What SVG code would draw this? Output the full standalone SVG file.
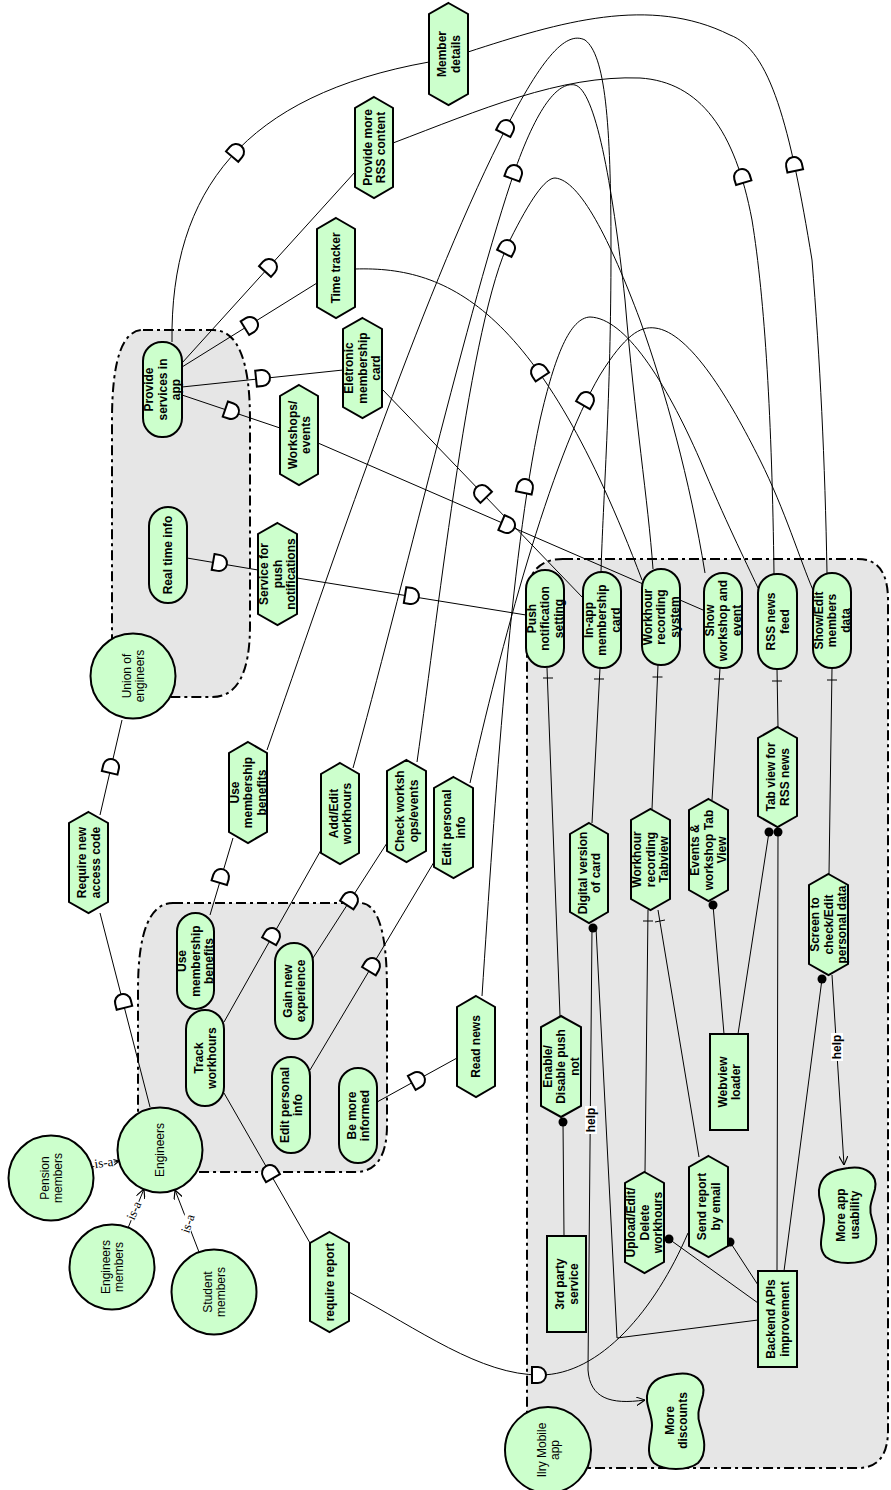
<svg xmlns="http://www.w3.org/2000/svg" width="891" height="1490" viewBox="0 0 891 1490">
<style>
.bnd{fill:#e6e6e6;stroke:#000;stroke-width:2;stroke-dasharray:10 4 3 4}
.n{fill:#ccffcc;stroke:#000;stroke-width:2}
.t{font-family:"Liberation Sans",Arial,sans-serif;font-size:12px;font-weight:bold;text-anchor:middle;fill:#000}
.ta{font-weight:normal}
.l{fill:none;stroke:#000;stroke-width:1}
.dm{fill:#fff;stroke:#000;stroke-width:2}
.dot{fill:#000}
.isa{font-family:"Liberation Serif","Times New Roman",serif;font-size:13px;text-anchor:middle}
.lb{fill:#fff}
</style>
<defs>
<path id="dmk" class="dm" d="M-6,-8 L0,-8 A8,8 0 0 1 0,8 L-6,8 Z"/>
<marker id="arr" viewBox="0 0 10 10" refX="10" refY="5" markerWidth="9" markerHeight="9" orient="auto" markerUnits="userSpaceOnUse"><path d="M0,0 L10,5 L0,10" fill="none" stroke="#000" stroke-width="1.3"/></marker>
<path id="cloud" d="M30,1 C48,-2 60,8 57,22 C54,34 50,40 54,52 C58,64 62,80 52,90 C42,98 18,98 8,90 C-2,80 6,64 6,52 C6,40 -2,30 2,18 C6,6 16,3 30,1 Z"/>
</defs>

<g id="boundaries">
<path id="b_union" class="bnd" d="M143,330 L213,330 Q250,330 250,420 L250,625 Q250,697 212,697 L150,697 Q112,697 112,650 L112,420 Q112,330 143,330 Z"/>
<path id="b_eng" class="bnd" d="M173,903 L360,903 Q387,903 387,990 L387,1125 Q387,1172 355,1172 L170,1172 Q138,1172 138,1140 L138,990 Q138,903 173,903 Z"/>
<path id="b_ilry" class="bnd" d="M563,559 L858,559 Q888,559 888,600 L888,1430 Q888,1468 858,1468 L560,1468 Q527,1468 527,1430 L527,600 Q527,559 563,559 Z"/>
</g>

<g id="connectors">
<path class="l" d="M172,342 C170,190 245,95 429,62"/>
<path class="l" d="M468,52 C560,22 650,-5 730,35 C770,50 790,125 812,260 C820,360 825,460 827,573"/>
<path class="l" d="M182,363 L355,172"/>
<path class="l" d="M393,143 C480,110 560,75 640,78 C700,82 735,130 752,220 C765,300 772,420 774,574"/>
<path class="l" d="M182,367 L317,283"/>
<path class="l" d="M355,269 C450,266 540,310 642,580"/>
<path class="l" d="M182,387 L343,370"/>
<path class="l" d="M382,389 L583,598"/>
<path class="l" d="M182,395 L280,428"/>
<path class="l" d="M318,443 L703,610"/>
<path class="l" d="M187,558 L258,570"/>
<path class="l" d="M297,578 L526,615"/>
<path class="l" d="M210,915 L233,838"/>
<path class="l" d="M267,750 C330,570 420,300 500,140 C540,60 565,30 585,40 C605,55 611,120 611,250 C611,400 603,500 601,572"/>
<path class="l" d="M224,1022 L321,850"/>
<path class="l" d="M353,768 C400,600 470,300 515,170 C540,100 560,82 575,85 C595,90 612,180 625,300 C635,420 648,500 653,569"/>
<path class="l" d="M313,958 L387,843"/>
<path class="l" d="M417,762 C440,600 470,320 510,240 C530,200 545,178 555,178 C580,180 610,240 640,320 C665,390 690,480 705,573"/>
<path class="l" d="M310,1070 L434,862"/>
<path class="l" d="M470,783 C500,650 550,460 600,375 C625,335 640,326 655,328 C690,332 730,400 760,460 C785,510 800,560 813,590"/>
<path class="l" d="M377,1102 L457,1058"/>
<path class="l" d="M482,996 C495,800 510,560 540,420 C555,355 570,318 590,317 C625,318 665,380 700,460 C725,520 745,560 758,588"/>
<path class="l" d="M224,1093 L310,1243"/>
<path class="l" d="M349,1292 C420,1330 480,1375 540,1375 C600,1375 655,1310 688,1233"/>
<path class="l" d="M150,1107 L100,913"/>
<path class="l" d="M100,815 L122,720"/>

<path class="l" d="M547,668 L560,1016 M543,678 L553,678"/>
<path class="l" d="M600,668 L592,823 M594,679 L604,679"/>
<path class="l" d="M658,665 L652,809 M652.5,677 L662.5,677"/>
<path class="l" d="M720,668 L712,800 M714,679 L724,679"/>
<path class="l" d="M777,669 L778,727 M772,681 L782,681"/>
<path class="l" d="M832,668 L829,874 M827,680 L837,680"/>
<path class="l" d="M648,910 L645,1172 M643,921 L653,921"/>
<path class="l" d="M658,910 L699,1157 M655,922 L665,920"/>

<path class="l" d="M564,1236 L563,1122"/>
<path class="l" d="M724,1034 L713,905"/>
<path class="l" d="M738,1034 L769,832"/>
<path class="l" d="M777,1271 L778,832"/>
<path class="l" d="M784,1271 L822,979"/>
<path class="l" d="M758,1285 L730,1242"/>
<path class="l" d="M758,1303 L669,1239"/>
<path class="l" d="M758,1320 L617,1338 L596,928"/>
<circle class="dot" cx="563" cy="1122" r="4.5"/>
<circle class="dot" cx="713" cy="905" r="4.5"/>
<circle class="dot" cx="769" cy="832" r="4.5"/>
<circle class="dot" cx="778" cy="832" r="4.5"/>
<circle class="dot" cx="822" cy="979" r="4.5"/>
<circle class="dot" cx="730" cy="1242" r="4.5"/>
<circle class="dot" cx="669" cy="1239" r="4.5"/>
<circle class="dot" cx="593" cy="928" r="4.5"/>

<path class="l" d="M592,928 L588,1370 C590,1398 610,1405 645,1400" marker-end="url(#arr)"/>
<path class="l" d="M832,975 L844,1165" marker-end="url(#arr)"/>
<g transform="translate(591,1120) rotate(-90)"><rect class="lb" x="-14" y="-6" width="28" height="12"/><text class="t" y="4">help</text></g>
<g transform="translate(837,1047) rotate(-90)"><rect class="lb" x="-14" y="-6" width="28" height="12"/><text class="t" y="4">help</text></g>

<path class="l" d="M92,1167 L119,1161" marker-end="url(#arr)"/>
<path class="l" d="M128,1228 L144,1189" marker-end="url(#arr)"/>
<path class="l" d="M199,1252 L175,1190" marker-end="url(#arr)"/>
<g transform="translate(104,1164) rotate(-8)"><rect class="lb" x="-10" y="-8" width="20" height="12"/><text class="isa" y="3">is-a</text></g>
<g transform="translate(135,1211) rotate(-66)"><rect class="lb" x="-10" y="-7" width="20" height="11"/><text class="isa" y="3">is-a</text></g>
<g transform="translate(189,1224) rotate(-72)"><rect class="lb" x="-10" y="-7" width="20" height="11"/><text class="isa" y="3">is-a</text></g>

<use href="#dmk" transform="translate(236,152) rotate(-50)"/>
<use href="#dmk" transform="translate(794,165) rotate(-102)"/>
<use href="#dmk" transform="translate(269,267) rotate(-48)"/>
<use href="#dmk" transform="translate(742,177) rotate(-107)"/>
<use href="#dmk" transform="translate(250,325) rotate(-32)"/>
<use href="#dmk" transform="translate(539,372) rotate(-124)"/>
<use href="#dmk" transform="translate(262,378) rotate(-6)"/>
<use href="#dmk" transform="translate(482,493) rotate(-134)"/>
<use href="#dmk" transform="translate(231,411) rotate(19)"/>
<use href="#dmk" transform="translate(507,525) rotate(23)"/>
<use href="#dmk" transform="translate(219,563) rotate(10)"/>
<use href="#dmk" transform="translate(411,596) rotate(9)"/>
<use href="#dmk" transform="translate(221,877) rotate(-73)"/>
<use href="#dmk" transform="translate(506,128) rotate(-63)"/>
<use href="#dmk" transform="translate(272,936) rotate(-61)"/>
<use href="#dmk" transform="translate(514,173) rotate(-70)"/>
<use href="#dmk" transform="translate(350,900) rotate(-57)"/>
<use href="#dmk" transform="translate(507,248) rotate(-63)"/>
<use href="#dmk" transform="translate(372,966) rotate(-59)"/>
<use href="#dmk" transform="translate(586,400) rotate(-60)"/>
<use href="#dmk" transform="translate(417,1080) rotate(-29)"/>
<use href="#dmk" transform="translate(525,487) rotate(-78)"/>
<use href="#dmk" transform="translate(270,1173) rotate(-120)"/>
<use href="#dmk" transform="translate(538,1375) rotate(0)"/>
<use href="#dmk" transform="translate(123,1002) rotate(-104)"/>
<use href="#dmk" transform="translate(111,767) rotate(-77)"/>
</g>

<g id="g_provide"><rect class="n" x="143" y="342" width="39" height="95" rx="19"/><text class="t" transform="translate(162.5,389.5) rotate(-90)"><tspan x="0" y="-9.5">Provide</tspan><tspan x="0" y="4">services in</tspan><tspan x="0" y="17.5">app</tspan></text></g>
<g id="g_realtime"><rect class="n" x="149" y="507" width="38" height="96" rx="19"/><text class="t" transform="translate(168,555) rotate(-90)"><tspan x="0" y="4">Real time info</tspan></text></g>
<g id="g_usemem"><rect class="n" x="177" y="913" width="37" height="96" rx="18.5"/><text class="t" transform="translate(195.5,961) rotate(-90)"><tspan x="0" y="-9.5">Use</tspan><tspan x="0" y="4">membership</tspan><tspan x="0" y="17.5">benefits</tspan></text></g>
<g id="g_track"><rect class="n" x="186" y="1010" width="38" height="96" rx="19"/><text class="t" transform="translate(205,1058) rotate(-90)"><tspan x="0" y="-2.5">Track</tspan><tspan x="0" y="11">workhours</tspan></text></g>
<g id="g_gain"><rect class="n" x="275" y="943" width="38" height="96" rx="19"/><text class="t" transform="translate(294,991) rotate(-90)"><tspan x="0" y="-2.5">Gain new</tspan><tspan x="0" y="11">experience</tspan></text></g>
<g id="g_editinfo"><rect class="n" x="272" y="1057" width="38" height="96" rx="19"/><text class="t" transform="translate(291,1105) rotate(-90)"><tspan x="0" y="-2.5">Edit personal</tspan><tspan x="0" y="11">info</tspan></text></g>
<g id="g_bemore"><rect class="n" x="339" y="1068" width="38" height="95" rx="19"/><text class="t" transform="translate(358,1115.5) rotate(-90)"><tspan x="0" y="-2.5">Be more</tspan><tspan x="0" y="11">informed</tspan></text></g>
<g id="g_push"><rect class="n" x="526" y="570" width="38" height="97" rx="19"/><text class="t" transform="translate(545,618.5) rotate(-90)"><tspan x="0" y="-9.5">Push</tspan><tspan x="0" y="4">notification</tspan><tspan x="0" y="17.5">setting</tspan></text></g>
<g id="g_inapp"><rect class="n" x="583" y="572" width="38" height="96" rx="19"/><text class="t" transform="translate(602,620) rotate(-90)"><tspan x="0" y="-9.5">In-app</tspan><tspan x="0" y="4">membership</tspan><tspan x="0" y="17.5">card</tspan></text></g>
<g id="g_workhour"><rect class="n" x="642" y="569" width="38" height="96" rx="19"/><text class="t" transform="translate(661,617) rotate(-90)"><tspan x="0" y="-9.5">Workhour</tspan><tspan x="0" y="4">recording</tspan><tspan x="0" y="17.5">system</tspan></text></g>
<g id="g_showws"><rect class="n" x="704" y="573" width="38" height="95" rx="19"/><text class="t" transform="translate(723,620.5) rotate(-90)"><tspan x="0" y="-9.5">Show</tspan><tspan x="0" y="4">workshop and</tspan><tspan x="0" y="17.5">event</tspan></text></g>
<g id="g_rss"><rect class="n" x="758" y="574" width="39" height="95" rx="19"/><text class="t" transform="translate(777.5,621.5) rotate(-90)"><tspan x="0" y="-2.5">RSS news</tspan><tspan x="0" y="11">feed</tspan></text></g>
<g id="g_showedit"><rect class="n" x="813" y="573" width="38" height="95" rx="19"/><text class="t" transform="translate(832,620.5) rotate(-90)"><tspan x="0" y="-9.5">Show/Edit</tspan><tspan x="0" y="4">members</tspan><tspan x="0" y="17.5">data</tspan></text></g>

<g id="t_member"><polygon class="n" points="448.5,3 468,14 468,94 448.5,105 429,94 429,14"/><text class="t" transform="translate(448.5,54) rotate(-90)"><tspan x="0" y="-2.5">Member</tspan><tspan x="0" y="11">details</tspan></text></g>
<g id="t_rssmore"><polygon class="n" points="374,97 393,108 393,187 374,198 355,187 355,108"/><text class="t" transform="translate(374,147.5) rotate(-90)"><tspan x="0" y="-2.5">Provide more</tspan><tspan x="0" y="11">RSS content</tspan></text></g>
<g id="t_time"><polygon class="n" points="336,218 355,229 355,307 336,318 317,307 317,229"/><text class="t" transform="translate(336,268) rotate(-90)"><tspan x="0" y="4">Time tracker</tspan></text></g>
<g id="t_ecard"><polygon class="n" points="362.5,318 382,329 382,407 362.5,418 343,407 343,329"/><text class="t" transform="translate(362.5,368) rotate(-90)"><tspan x="0" y="-9.5">Eletronic</tspan><tspan x="0" y="4">membership</tspan><tspan x="0" y="17.5">card</tspan></text></g>
<g id="t_workshops"><polygon class="n" points="299,385 318,396 318,474 299,485 280,474 280,396"/><text class="t" transform="translate(299,435) rotate(-90)"><tspan x="0" y="-2.5">Workshops/</tspan><tspan x="0" y="11">events</tspan></text></g>
<g id="t_pushsvc"><polygon class="n" points="277.5,523 297,534 297,614 277.5,625 258,614 258,534"/><text class="t" transform="translate(277.5,574) rotate(-90)"><tspan x="0" y="-9.5">Service for</tspan><tspan x="0" y="4">push</tspan><tspan x="0" y="17.5">notifications</tspan></text></g>
<g id="t_access"><polygon class="n" points="88.5,812 108,823 108,902 88.5,913 69,902 69,823"/><text class="t" transform="translate(88.5,862.5) rotate(-90)"><tspan x="0" y="-2.5">Require new</tspan><tspan x="0" y="11">access code</tspan></text></g>
<g id="t_usemem"><polygon class="n" points="248,742 267,753 267,832 248,843 229,832 229,753"/><text class="t" transform="translate(248,792.5) rotate(-90)"><tspan x="0" y="-9.5">Use</tspan><tspan x="0" y="4">membership</tspan><tspan x="0" y="17.5">benefits</tspan></text></g>
<g id="t_addedit"><polygon class="n" points="340,763 359,774 359,853 340,864 321,853 321,774"/><text class="t" transform="translate(340,813.5) rotate(-90)"><tspan x="0" y="-2.5">Add/Edit</tspan><tspan x="0" y="11">workhours</tspan></text></g>
<g id="t_check"><polygon class="n" points="406.5,760 426,771 426,851 406.5,862 387,851 387,771"/><text class="t" transform="translate(406.5,811) rotate(-90)"><tspan x="0" y="-2.5">Check worksh</tspan><tspan x="0" y="11">ops/events</tspan></text></g>
<g id="t_editinfo"><polygon class="n" points="453.5,777 473,788 473,867 453.5,878 434,867 434,788"/><text class="t" transform="translate(453.5,827.5) rotate(-90)"><tspan x="0" y="-2.5">Edit personal</tspan><tspan x="0" y="11">info</tspan></text></g>
<g id="t_readnews"><polygon class="n" points="476,996 495,1007 495,1086 476,1097 457,1086 457,1007"/><text class="t" transform="translate(476,1046.5) rotate(-90)"><tspan x="0" y="4">Read news</tspan></text></g>
<g id="t_report"><polygon class="n" points="329.5,1232 349,1243 349,1321 329.5,1332 310,1321 310,1243"/><text class="t" transform="translate(329.5,1282) rotate(-90)"><tspan x="0" y="4">require report</tspan></text></g>
<g id="t_tabrss"><polygon class="n" points="777.5,727 797,738 797,816 777.5,827 758,816 758,738"/><text class="t" transform="translate(777.5,777) rotate(-90)"><tspan x="0" y="-2.5">Tab view for</tspan><tspan x="0" y="11">RSS news</tspan></text></g>
<g id="t_digital"><polygon class="n" points="589,823 608,834 608,912 589,923 570,912 570,834"/><text class="t" transform="translate(589,873) rotate(-90)"><tspan x="0" y="-2.5">Digital version</tspan><tspan x="0" y="11">of card</tspan></text></g>
<g id="t_whtab"><polygon class="n" points="650.5,809 670,820 670,899 650.5,910 631,899 631,820"/><text class="t" transform="translate(650.5,859.5) rotate(-90)"><tspan x="0" y="-9.5">Workhour</tspan><tspan x="0" y="4">recording</tspan><tspan x="0" y="17.5">Tabview</tspan></text></g>
<g id="t_evtab"><polygon class="n" points="708.5,799 728,810 728,890 708.5,901 689,890 689,810"/><text class="t" transform="translate(708.5,850) rotate(-90)"><tspan x="0" y="-9.5">Events &amp;</tspan><tspan x="0" y="4">workshop Tab</tspan><tspan x="0" y="17.5">View</tspan></text></g>
<g id="t_screen"><polygon class="n" points="828.5,874 848,885 848,964 828.5,975 809,964 809,885"/><text class="t" transform="translate(828.5,924.5) rotate(-90)"><tspan x="0" y="-9.5">Screen to</tspan><tspan x="0" y="4">check/Edit</tspan><tspan x="0" y="17.5">personal data</tspan></text></g>
<g id="t_enable"><polygon class="n" points="561,1016 581,1027 581,1106 561,1117 541,1106 541,1027"/><text class="t" transform="translate(561,1066.5) rotate(-90)"><tspan x="0" y="-9.5">Enable/</tspan><tspan x="0" y="4">Disable push</tspan><tspan x="0" y="17.5">not</tspan></text></g>
<g id="t_upload"><polygon class="n" points="644.5,1172 664,1183 664,1262 644.5,1273 625,1262 625,1183"/><text class="t" transform="translate(644.5,1222.5) rotate(-90)"><tspan x="0" y="-9.5">Upload/Edit/</tspan><tspan x="0" y="4">Delete</tspan><tspan x="0" y="17.5">workhours</tspan></text></g>
<g id="t_send"><polygon class="n" points="708.5,1156 728,1167 728,1246 708.5,1257 689,1246 689,1167"/><text class="t" transform="translate(708.5,1206.5) rotate(-90)"><tspan x="0" y="-2.5">Send report</tspan><tspan x="0" y="11">by email</tspan></text></g>

<g id="r_webview"><rect class="n" x="710" y="1034" width="38" height="96"/><text class="t" transform="translate(729,1082) rotate(-90)"><tspan x="0" y="-2.5">Webview</tspan><tspan x="0" y="11">loader</tspan></text></g>
<g id="r_3rd"><rect class="n" x="547" y="1236" width="39" height="96"/><text class="t" transform="translate(566.5,1284) rotate(-90)"><tspan x="0" y="-2.5">3rd party</tspan><tspan x="0" y="11">service</tspan></text></g>
<g id="r_backend"><rect class="n" x="758" y="1271" width="39" height="96"/><text class="t" transform="translate(777.5,1319) rotate(-90)"><tspan x="0" y="-2.5">Backend APIs</tspan><tspan x="0" y="11">improvement</tspan></text></g>

<g id="s_usability"><use href="#cloud" class="n" transform="translate(818,1167)"/><text class="t" transform="translate(847.5,1215) rotate(-90)"><tspan x="0" y="-2.5">More app</tspan><tspan x="0" y="11">usability</tspan></text></g>
<g id="s_discounts"><use href="#cloud" class="n" transform="translate(646,1373)"/><text class="t" transform="translate(676,1420.5) rotate(-90)"><tspan x="0" y="-2.5">More</tspan><tspan x="0" y="11">discounts</tspan></text></g>

<g id="a_union"><circle class="n" cx="133" cy="676" r="42.5"/><text class="t ta" transform="translate(133,676) rotate(-90)"><tspan x="0" y="-2.5">Union of</tspan><tspan x="0" y="11">engineers</tspan></text></g>
<g id="a_engineers"><circle class="n" cx="160" cy="1150" r="42.5"/><text class="t ta" transform="translate(160,1150) rotate(-90)"><tspan x="0" y="4">Engineers</tspan></text></g>
<g id="a_pension"><circle class="n" cx="51" cy="1178" r="42.5"/><text class="t ta" transform="translate(51,1178) rotate(-90)"><tspan x="0" y="-2.5">Pension</tspan><tspan x="0" y="11">members</tspan></text></g>
<g id="a_engmembers"><circle class="n" cx="112" cy="1267" r="42.5"/><text class="t ta" transform="translate(112,1267) rotate(-90)"><tspan x="0" y="-2.5">Engineers</tspan><tspan x="0" y="11">members</tspan></text></g>
<g id="a_student"><circle class="n" cx="214" cy="1292" r="42.5"/><text class="t ta" transform="translate(214,1292) rotate(-90)"><tspan x="0" y="-2.5">Student</tspan><tspan x="0" y="11">members</tspan></text></g>
<g id="a_ilry"><circle class="n" cx="548" cy="1450" r="43"/><text class="t ta" transform="translate(548,1450) rotate(-90)"><tspan x="0" y="-2.5">Ilry Mobile</tspan><tspan x="0" y="11">app</tspan></text></g>
</svg>
